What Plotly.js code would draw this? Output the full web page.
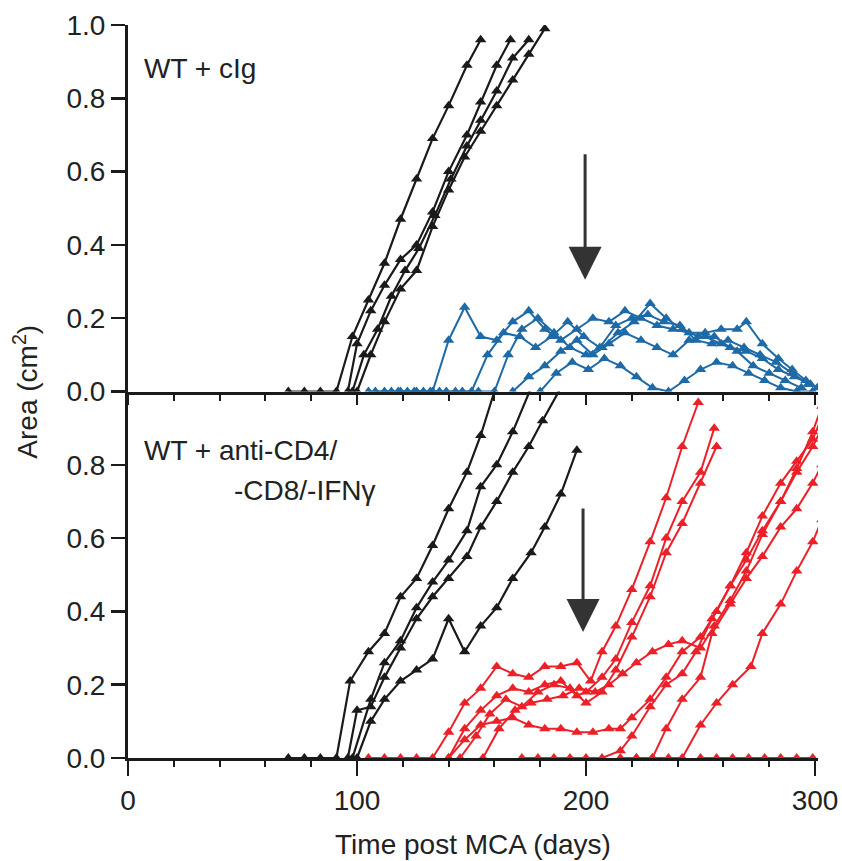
<!DOCTYPE html>
<html>
<head>
<meta charset="utf-8">
<script src="https://cdn.plot.ly/plotly-3.0.1.min.js"></script>
<style>html,body{margin:0;padding:0;background:#fff;}#chart{width:842px;height:861px;}</style>
</head>
<body>
<div id="chart"></div>
<script>
// ---- Data (days post MCA, tumour area cm^2) ----
// Top panel: WT + cIg
const topBlackDays = [
  [70,77,84,91,98,105,112,119,126,133,140,148,154],
  [96,100,106,112,119,126,133,140,148,154,161,167],
  [98,103,109,115,121,127,134,141,148,154,161,168,175],
  [100,106,112,119,126,133,140,147,154,161,168,175,182]
];
const topBlackArea = [
  [0,0,0,0,0.15,0.25,0.35,0.47,0.58,0.69,0.78,0.89,0.96],
  [0,0.13,0.22,0.29,0.36,0.40,0.49,0.60,0.70,0.79,0.89,0.96],
  [0,0.10,0.17,0.26,0.33,0.39,0.48,0.58,0.67,0.74,0.82,0.91,0.96],
  [0,0.10,0.19,0.28,0.33,0.45,0.55,0.64,0.71,0.78,0.85,0.92,0.99]
];
const topBlueDays = [
  [105,112,119,126,133,140,147,154,161,168,175,182,189,196,203,210,217,224,231,238,245,252,259,266,270,277,284,290,296,301],
  [108,115,122,129,136,143,150,157,164,171,178,185,192,199,206,213,220,227,234,241,248,255,262,269,276,283,290,297],
  [118,125,132,139,146,153,160,166,172,179,186,193,200,207,214,221,228,235,242,249,256,263,270,277,284,291,298],
  [168,175,182,189,196,203,210,217,224,231,238,245,252,259,266,273,280,287,294],
  [180,187,194,201,208,215,222,229,236,243,250,257,264,271,278,285,292,299]
];
const topBlueArea = [
  [0,0,0,0,0,0.14,0.23,0.15,0.14,0.19,0.22,0.17,0.14,0.17,0.20,0.19,0.22,0.20,0.18,0.17,0.16,0.16,0.17,0.17,0.19,0.13,0.09,0.06,0.03,0.01],
  [0,0,0,0,0,0,0,0.10,0.16,0.15,0.12,0.15,0.19,0.15,0.12,0.18,0.20,0.21,0.19,0.18,0.14,0.13,0.14,0.12,0.10,0.08,0.05,0.02],
  [0,0,0,0,0,0,0,0.10,0.17,0.20,0.16,0.12,0.10,0.12,0.16,0.19,0.24,0.20,0.17,0.15,0.15,0.12,0.11,0.09,0.06,0.04,0.02],
  [0,0.04,0.07,0.11,0.14,0.10,0.13,0.16,0.14,0.12,0.10,0.14,0.15,0.13,0.11,0.07,0.05,0.03,0.01],
  [0,0.05,0.08,0.06,0.09,0.07,0.04,0.01,0.00,0.03,0.06,0.08,0.07,0.05,0.03,0.01,0,0]
];
// Bottom panel: WT + anti-CD4/-CD8/-IFNγ
const bottomBlackDays = [
  [70,77,84,91,97,105,112,119,126,133,140,148,154,161],
  [98,106,112,119,126,133,140,148,154,161,168,176],
  [96,100,106,112,119,126,133,140,148,154,161,168,175,181,189],
  [100,106,112,119,126,133,140,147,154,161,168,176,182,189,196]
];
const bottomBlackArea = [
  [0,0,0,0,0.21,0.29,0.34,0.44,0.49,0.58,0.68,0.78,0.88,1.02],
  [0,0.16,0.26,0.32,0.41,0.48,0.54,0.62,0.74,0.80,0.89,1.01],
  [0,0.13,0.14,0.22,0.30,0.38,0.44,0.49,0.55,0.63,0.70,0.78,0.85,0.92,1.01],
  [0,0.10,0.16,0.21,0.24,0.27,0.38,0.29,0.36,0.41,0.49,0.56,0.63,0.72,0.84]
];
const bottomRedDays = [
  [105,112,119,126,133,140,147,154,161,168,175,182,189,196,202,207,213,220,228,235,242,249],
  [140,147,154,161,168,175,182,189,196,200,207,213,220,228,235,242,250,256],
  [145,152,158,165,172,179,186,193,200,207,213,220,228,235,242,250,257],
  [140,147,154,161,168,175,182,189,196,203,210,215,220,228,235,242,250,257,263,270,277,285,292,299,303],
  [155,162,169,176,183,190,197,204,210,216,222,229,236,242,250,256,263,270,277,285,292,299,303],
  [172,179,186,193,200,207,215,220,228,235,242,248,255,263,270,277,285,292,299,303],
  [215,222,229,235,242,250,255,263,270,277,285,292,299,303],
  [222,229,236,242,250,257,264,272,277,285,292,299,303],
  [250,257,264,271,278,285,292,299]
];
const bottomRedArea = [
  [0,0,0,0,0,0.07,0.15,0.19,0.25,0.23,0.22,0.25,0.25,0.26,0.21,0.29,0.36,0.46,0.59,0.71,0.85,0.97],
  [0,0.08,0.13,0.17,0.19,0.18,0.20,0.21,0.17,0.18,0.22,0.27,0.37,0.47,0.60,0.70,0.78,0.90],
  [0,0.06,0.12,0.16,0.14,0.18,0.20,0.19,0.15,0.18,0.24,0.33,0.44,0.56,0.64,0.75,0.85],
  [0,0.05,0.09,0.10,0.11,0.09,0.08,0.08,0.07,0.07,0.08,0.08,0.11,0.16,0.22,0.29,0.33,0.40,0.47,0.54,0.62,0.70,0.78,0.85,0.90],
  [0,0.08,0.13,0.15,0.16,0.17,0.19,0.18,0.20,0.23,0.26,0.29,0.31,0.32,0.30,0.36,0.43,0.51,0.61,0.70,0.79,0.89,0.96],
  [0,0,0,0,0,0,0.02,0.06,0.14,0.20,0.23,0.29,0.38,0.47,0.56,0.66,0.75,0.81,0.87,0.93],
  [0,0,0,0.08,0.16,0.22,0.34,0.42,0.49,0.55,0.63,0.68,0.75,0.80],
  [0,0,0,0,0.09,0.15,0.20,0.25,0.34,0.42,0.51,0.59,0.65],
  [0,0,0,0,0,0,0,0]
];
const xTickVals = [0,100,200,300];
const yTickVals = [0,0.2,0.4,0.6,0.8,1.0];
const yTickVals2 = [0,0.2,0.4,0.6,0.8];

// ---- Styling ----
const BLACK = '#1a1a1a', BLUE = '#1d6aa6', RED = '#ec2028';
const FONT = 'Liberation Sans, Arial, Helvetica, sans-serif';

function series(xs, ys, color, xa, ya, lw) {
  return xs.map((d, i) => ({
    x: d, y: ys[i], xaxis: xa, yaxis: ya, type: 'scatter', mode: 'lines+markers',
    line: {color: color, width: lw},
    marker: {symbol: 'triangle-up', size: 10, color: color},
    showlegend: false, hoverinfo: 'x+y'
  }));
}

const traces = [].concat(
  series(topBlueDays, topBlueArea, BLUE, 'x', 'y', 2),
  series(topBlackDays, topBlackArea, BLACK, 'x', 'y', 2.2),
  series(bottomRedDays, bottomRedArea, RED, 'x2', 'y2', 2),
  series(bottomBlackDays, bottomBlackArea, BLACK, 'x2', 'y2', 2.2)
);

const xRange = [0, 301.3];
const baseX = {
  range: xRange, showgrid: false, zeroline: false, showline: true, linecolor: BLACK, linewidth: 3,
  ticks: 'outside', tickcolor: BLACK, tickwidth: 2.5, tickvals: xTickVals,
  minor: {dtick: 20, tick0: 0, ticks: 'outside', ticklen: 6, tickwidth: 2, tickcolor: BLACK, showgrid: false},
  tickfont: {size: 28, color: '#222', family: FONT}
};
const baseY = {
  range: [0, 1.0], showgrid: false, zeroline: false, showline: true, linecolor: BLACK, linewidth: 3,
  ticks: 'outside', ticklen: 14, tickwidth: 2.5, tickcolor: BLACK, tickformat: '.1f',
  tickfont: {size: 28, color: '#222', family: FONT}
};

const layout = {
  width: 842, height: 861,
  margin: {l: 128, r: 24, t: 25, b: 103},
  paper_bgcolor: '#fff', plot_bgcolor: '#fff',
  font: {family: FONT, color: '#222'},
  showlegend: false,
  xaxis: Object.assign({}, baseX, {anchor: 'y', showticklabels: false, ticklen: 10}),
  xaxis2: Object.assign({}, baseX, {anchor: 'y2', matches: 'x', ticklen: 15,
    title: {text: 'Time post MCA (days)', font: {size: 28, color: '#222', family: FONT}, standoff: 20}}),
  yaxis: Object.assign({}, baseY, {domain: [0.5, 1], anchor: 'x', tickvals: yTickVals}),
  yaxis2: Object.assign({}, baseY, {domain: [0, 0.5], anchor: 'x2', tickvals: yTickVals2}),
  annotations: [
    {xref: 'x', yref: 'y', x: 6, y: 0.88, xanchor: 'left', yanchor: 'middle', showarrow: false,
     text: 'WT + cIg', font: {size: 28, color: '#222', family: FONT}},
    {xref: 'x2', yref: 'y2', x: 6, y: 0.84, xanchor: 'left', yanchor: 'middle', showarrow: false,
     text: 'WT + anti-CD4/', font: {size: 28, color: '#222', family: FONT}},
    {xref: 'x2', yref: 'y2', x: 109, y: 0.73, xanchor: 'right', yanchor: 'middle', showarrow: false,
     text: '-CD8/-IFNγ', font: {size: 28, color: '#222', family: FONT}},
    {xref: 'paper', yref: 'paper', x: -0.149, y: 0.5, xanchor: 'center', yanchor: 'middle', showarrow: false,
     textangle: -90, text: 'Area (cm<sup>2</sup>)', font: {size: 28, color: '#222', family: FONT}},
    {xref: 'x', yref: 'y', x: 199.6, y: 0.305, ax: 0, ay: -127, text: '', showarrow: true,
     arrowhead: 2, arrowsize: 2.2, arrowwidth: 3, arrowcolor: '#333'},
    {xref: 'x2', yref: 'y2', x: 198.7, y: 0.344, ax: 0, ay: -125, text: '', showarrow: true,
     arrowhead: 2, arrowsize: 2.2, arrowwidth: 3, arrowcolor: '#333'}
  ]
};

Plotly.newPlot('chart', traces, layout, {displayModeBar: false, staticPlot: true});
</script>
</body>
</html>
